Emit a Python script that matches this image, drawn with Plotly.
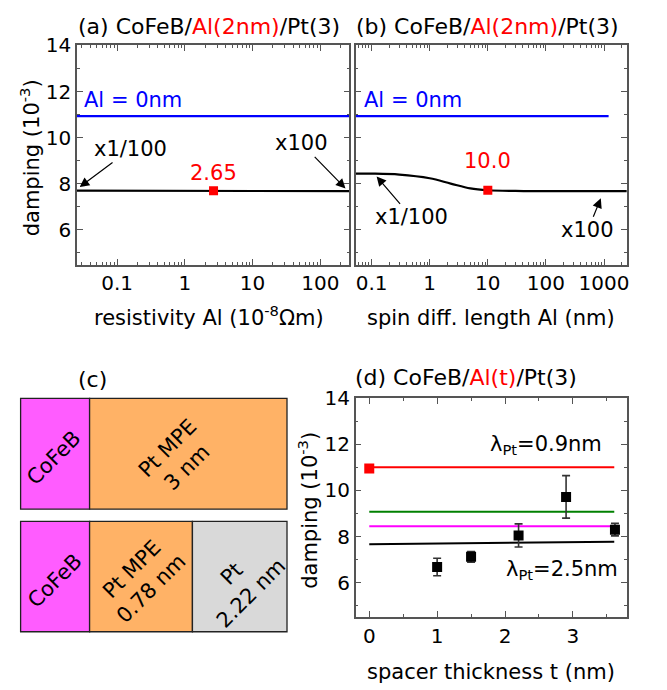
import numpy as np
import plotly.graph_objects as go

# ---------------- data ----------------
# (a) damping vs Al resistivity
a_rho = [0.025, 0.1, 1, 2.65, 10, 100, 270]
a_damp = [7.70, 7.70, 7.70, 7.70, 7.69, 7.68, 7.68]
a_ref_x = [0.025, 270]
a_ref_y = [10.93, 10.93]
a_pt_x = [2.65]
a_pt_y = [7.70]

# (b) damping vs Al spin diffusion length
b_lam = [0.05, 0.1, 0.3, 1, 2.3, 5, 10, 30, 100, 1000, 2500]
b_damp = [8.44, 8.44, 8.40, 8.24, 8.01, 7.80, 7.72, 7.69, 7.68, 7.68, 7.68]
b_ref_x = [0.05, 1200]
b_ref_y = [10.93, 10.93]
b_pt_x = [10.0]
b_pt_y = [7.72]

# (d) damping vs spacer thickness
d_t = [1.0, 1.5, 2.2, 2.9, 3.62]
d_damp = [6.68, 7.12, 8.05, 9.72, 8.30]
d_err = [0.38, 0.23, 0.50, 0.92, 0.27]
d_ref_t = [0.0]
d_ref_damp = [10.95]
d_line_t = [0.0, 3.61]
d_red = [11.00, 11.00]
d_green = [9.08, 9.08]
d_magenta = [8.45, 8.45]
d_black = [7.67, 7.77]

log_ticks = [0.1, 1, 10, 100, 1000]
log_ticktext = ["0.1", "1", "10", "100", "1000"]

W, H = 667, 690
def PX(x):
    return x / W
def PY(y):
    return 1 - y / H

FONT = "DejaVu Sans"
TICKF = dict(family=FONT, size=20, color="black")
AXC = "#555555"

fig = go.Figure()

# panel a
fig.add_trace(go.Scatter(x=a_ref_x, y=a_ref_y, mode="lines", line=dict(color="#0000ff", width=2.2),
                         xaxis="x", yaxis="y", showlegend=False))
fig.add_trace(go.Scatter(x=a_rho, y=a_damp, mode="lines", line=dict(color="black", width=2.2),
                         xaxis="x", yaxis="y", showlegend=False))
fig.add_trace(go.Scatter(x=a_pt_x, y=a_pt_y, mode="markers", marker=dict(color="red", symbol="square", size=9),
                         xaxis="x", yaxis="y", showlegend=False))
# panel b
fig.add_trace(go.Scatter(x=b_ref_x, y=b_ref_y, mode="lines", line=dict(color="#0000ff", width=2.2),
                         xaxis="x2", yaxis="y2", showlegend=False))
fig.add_trace(go.Scatter(x=b_lam, y=b_damp, mode="lines", line=dict(color="black", width=2.2, shape="spline"),
                         xaxis="x2", yaxis="y2", showlegend=False))
fig.add_trace(go.Scatter(x=b_pt_x, y=b_pt_y, mode="markers", marker=dict(color="red", symbol="square", size=9),
                         xaxis="x2", yaxis="y2", showlegend=False))
# panel d
for yy, col in [(d_red, "red"), (d_green, "green"), (d_magenta, "magenta"), (d_black, "black")]:
    fig.add_trace(go.Scatter(x=d_line_t, y=yy, mode="lines", line=dict(color=col, width=2),
                             xaxis="x3", yaxis="y3", showlegend=False))
fig.add_trace(go.Scatter(x=d_ref_t, y=d_ref_damp, mode="markers", marker=dict(color="red", symbol="square", size=10),
                         xaxis="x3", yaxis="y3", showlegend=False))
fig.add_trace(go.Scatter(x=d_t, y=d_damp, mode="markers",
                         marker=dict(color="black", symbol="square", size=10),
                         error_y=dict(type="data", array=d_err, color="#333333", thickness=1.6, width=4),
                         xaxis="x3", yaxis="y3", showlegend=False))

minor_log = [m * 10.0 ** e for e in range(-2, 4) for m in range(2, 10)]

def logaxis(domain, rng):
    return dict(domain=domain, type="log", range=rng, tickmode="array", tickvals=log_ticks,
                ticktext=log_ticktext, ticks="inside", ticklen=6, tickwidth=1.3, tickcolor=AXC,
                showline=True, linecolor=AXC, linewidth=1.6, mirror="allticks", showgrid=False,
                zeroline=False, tickfont=TICKF,
                minor=dict(tickmode="array", tickvals=minor_log, ticks="inside", ticklen=3,
                           tickcolor=AXC, tickwidth=1, showgrid=False))

def yaxis(domain, show, anchor):
    return dict(domain=domain, range=[4.5, 14], dtick=2, tick0=0, ticks="inside", ticklen=6, tickwidth=1.3,
                tickcolor=AXC, showline=True, linecolor=AXC, linewidth=1.6, mirror="allticks",
                showgrid=False, zeroline=False, showticklabels=show, tickfont=TICKF, anchor=anchor,
                minor=dict(dtick=1, ticks="inside", ticklen=3, tickcolor=AXC, tickwidth=1, showgrid=False))

yd_top = [PY(257), PY(34)]
yd_bot = [PY(616), PY(393)]
fig.update_layout(
    width=W, height=H, margin=dict(l=0, r=0, t=0, b=0),
    paper_bgcolor="white", plot_bgcolor="white",
    font=dict(family=FONT, size=20, color="black"),
    xaxis=dict(logaxis([PX(77.3), PX(351)], [-1.594, 2.43]), anchor="y"),
    yaxis=yaxis(yd_top, True, "x"),
    xaxis2=dict(logaxis([PX(357.3), PX(629.5)], [-1.274, 3.39]), anchor="y2"),
    yaxis2=yaxis(yd_top, False, "x2"),
    xaxis3=dict(domain=[PX(357.3), PX(630)], range=[-0.2, 3.8], anchor="y3", dtick=1, tick0=0,
                ticks="inside", ticklen=6, tickwidth=1.3, tickcolor=AXC, showline=True, linecolor=AXC,
                linewidth=1.6, mirror="allticks", showgrid=False, zeroline=False, tickfont=TICKF,
                minor=dict(dtick=0.5, ticks="inside", ticklen=3, tickcolor=AXC, tickwidth=1, showgrid=False)),
    yaxis3=yaxis(yd_bot, True, "x3"),
)

ann = []
def A(text, x, y, xref="paper", yref="paper", size=21, color="black", xanchor="center", angle=0, **kw):
    ann.append(dict(text=text, x=x, y=y, xref=xref, yref=yref, showarrow=False, xanchor=xanchor,
                    yanchor="middle", textangle=angle, font=dict(family=FONT, size=size, color=color), **kw))

RED = "<span style='color:#ff0000'>"
# titles
A("(a) CoFeB/" + RED + "Al(2nm)</span>/Pt(3)", PX(76), PY(15), xanchor="left", size=22)
A("(b) CoFeB/" + RED + "Al(2nm)</span>/Pt(3)", PX(356), PY(15), xanchor="left", size=22)
A("(d) CoFeB/" + RED + "Al(t)</span>/Pt(3)", PX(355), PY(372), xanchor="left", size=22)
A("(c)", PX(93), PY(374), size=22)
# axis titles
A("resistivity Al (10<sup>-8</sup>Ωm)", PX(210), PY(309))
A("spin diff. length Al (nm)", PX(493), PY(311))
A("spacer thickness t (nm)", PX(493), PY(672))
A("damping (10<sup>-3</sup>)", PX(31), PY(148), angle=-90)
A("damping (10<sup>-3</sup>)", PX(310), PY(507), angle=-90)

# panel a / b / d plain annotations
A("Al = 0nm", -1.52, 11.63, xref="x", yref="y", color="#0000ff", xanchor="left")
A("2.65", np.log10(2.65), 8.45, xref="x", yref="y", color="#ff0000")
A("Al = 0nm", -1.16, 11.65, xref="x2", yref="y2", color="#0000ff", xanchor="left")
A("10.0", 1.0, 9.0, xref="x2", yref="y2", color="#ff0000")
A("λ<sub>Pt</sub>=0.9nm", 2.60, 11.95, xref="x3", yref="y3")
A("λ<sub>Pt</sub>=2.5nm", 2.84, 6.55, xref="x3", yref="y3")

# labels with arrows (text sits at the arrow tail, offset in pixels from the tip)
def LABEL_ARROW(text, x, y, ax, ay, xref, yref):
    ann.append(dict(text=text, x=x, y=y, xref=xref, yref=yref, ax=ax, ay=ay, showarrow=True,
                    arrowhead=2, arrowsize=1.6, arrowwidth=1.2, arrowcolor="black", standoff=0,
                    font=dict(family=FONT, size=21, color="black")))
LABEL_ARROW("x1/100", -1.554, 7.86, 51, -38, "x", "y")
LABEL_ARROW("x100", 2.372, 7.80, -44, -45, "x", "y")
LABEL_ARROW("x1/100", -0.914, 8.32, 35, 41, "x2", "y2")
LABEL_ARROW("x100", 2.945, 7.37, -13, 32, "x2", "y2")

# panel c diagram
MAG = "#ff5cff"
ORA = "#ffb266"
GRY = "#d9d9d9"
shapes = []
def RECT(x0, y0, x1, y1, fill):
    shapes.append(dict(type="rect", xref="paper", yref="paper", x0=PX(x0), x1=PX(x1), y0=PY(y1), y1=PY(y0),
                       fillcolor=fill, line=dict(color="#222222", width=1.3), layer="below"))
RECT(20.7, 393.3, 90, 506, MAG)
RECT(90, 393.3, 288.3, 506, ORA)
RECT(20.7, 518.3, 90, 630.7, MAG)
RECT(90, 518.3, 193.3, 630.7, ORA)
RECT(193.3, 518.3, 288.3, 630.7, GRY)

A("CoFeB", PX(54), PY(454), angle=-45, size=21)
A("Pt MPE<br>3 nm", PX(178), PY(453), angle=-45, size=21)
A("CoFeB", PX(55), PY(579), angle=-45, size=21)
A("Pt MPE<br>0.78 nm", PX(142.5), PY(577), angle=-45, size=21)
A("Pt<br>2.22 nm", PX(242.5), PY(582), angle=-45, size=21)

fig.update_layout(annotations=ann, shapes=shapes)
fig.write_html("out.html", config={"displayModeBar": False},
               post_script="document.body.style.margin='0px';document.body.style.overflow='hidden';")
